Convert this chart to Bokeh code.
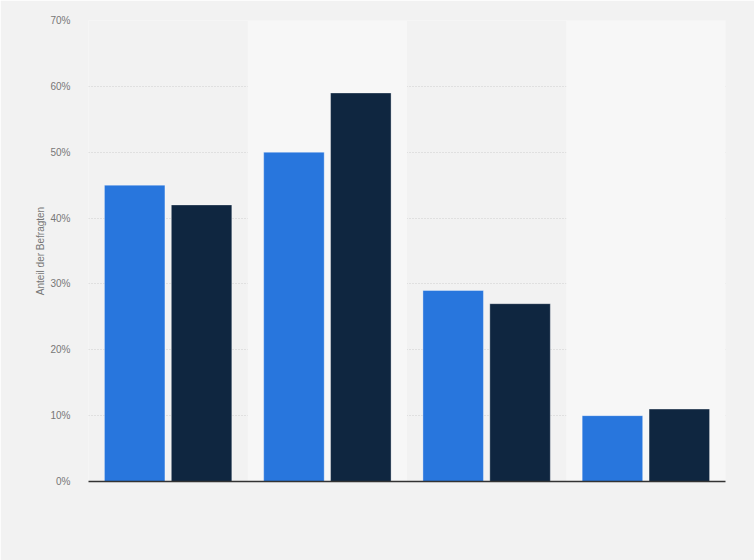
from bokeh.plotting import figure
from bokeh.models import FactorRange, Range1d, FixedTicker, CustomJSTickFormatter
from bokeh.transform import dodge
from bokeh.embed import file_html
from bokeh.resources import INLINE

categories = ["Gruppe 1", "Gruppe 2", "Gruppe 3", "Gruppe 4"]
series_a = [45, 50, 29, 10]
series_b = [42, 59, 27, 11]
y_ticks = [0, 10, 20, 30, 40, 50, 60, 70]

BG = "#f2f2f2"
BAND = "#f7f7f7"
BLUE = "#2876dd"
NAVY = "#0f2640"

p = figure(
    x_range=FactorRange(factors=categories, range_padding=0),
    y_range=Range1d(0, 70),
    width=754, height=560,
    output_backend="svg", toolbar_location=None,
    min_border_left=88, min_border_right=29,
    min_border_top=20, min_border_bottom=79,
    background_fill_color=BG, border_fill_color=BG,
    outline_line_color=None,
)

# alternating background bands
p.vbar(x=categories[1::2], top=[70] * len(categories[1::2]), width=1.0,
       fill_color=BAND, line_color=None)

p.ygrid.grid_line_color = "#cfcfcf"
p.ygrid.grid_line_dash = "1 2"
p.ygrid.grid_line_width = 1
p.xgrid.grid_line_color = None

p.vbar(x=dodge("x", -0.21, range=p.x_range), top="a", width=0.38,
       source=dict(x=categories, a=series_a),
       fill_color=BLUE, line_color="#ffffff", line_alpha=0.35, line_width=1)
p.vbar(x=dodge("x", 0.21, range=p.x_range), top="b", width=0.38,
       source=dict(x=categories, b=series_b),
       fill_color=NAVY, line_color="#ffffff", line_alpha=0.35, line_width=1)

p.yaxis.ticker = FixedTicker(ticks=y_ticks)
p.yaxis.formatter = CustomJSTickFormatter(code="return tick + '%';")
p.yaxis.axis_line_color = None
p.yaxis.major_tick_line_color = None
p.yaxis.minor_tick_line_color = None
p.yaxis.major_label_text_font = "Liberation Sans"
p.yaxis.major_label_text_font_size = "10px"
p.yaxis.major_label_text_color = "#777777"
p.yaxis.major_label_standoff = 12
p.yaxis.axis_label = "Anteil der Befragten"
p.yaxis.axis_label_text_font = "Liberation Sans"
p.yaxis.axis_label_text_font_size = "10px"
p.yaxis.axis_label_text_font_style = "normal"
p.yaxis.axis_label_text_color = "#777777"
p.yaxis.axis_label_standoff = 1

p.xaxis.axis_line_color = "#333333"
p.xaxis.axis_line_width = 1.5
p.xaxis.major_tick_line_color = None
p.xaxis.minor_tick_line_color = None
p.xaxis.major_label_text_color = None
p.xaxis.group_text_color = None

html = file_html(p, INLINE)
html = html.replace("<body>", '<body style="background:#f2f2f2;margin:0;overflow:hidden">', 1)
open("out.html", "w").write(html)
